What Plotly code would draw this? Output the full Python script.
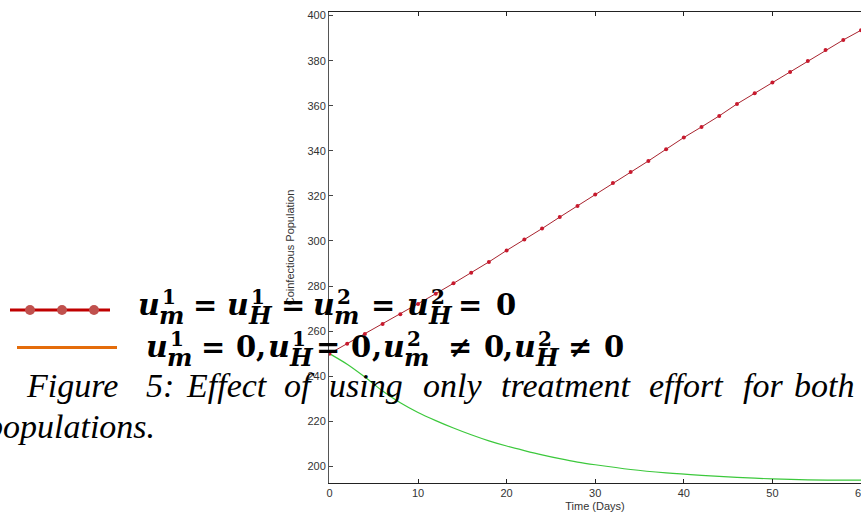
import plotly.graph_objects as go

# ---------------- data ----------------
days_red = list(range(0, 62, 2))
pop_red = [250.0, 254.4, 258.7, 263.1, 267.5, 272.0, 276.6, 281.2, 285.9, 290.7,
           295.8, 300.6, 305.5, 310.6, 315.5, 320.6, 325.7, 330.6, 335.5, 340.7,
           345.9, 350.6, 355.5, 360.8, 365.5, 370.3, 375.0, 379.9, 384.7, 389.2, 393.5]

days_green = [0, 2, 4, 6, 8, 10, 12, 14, 16, 18, 20, 22, 24, 26, 28, 30, 34, 38, 42, 46, 50, 54, 60]
pop_green = [250.0, 245.3, 239.6, 233.4, 228.2, 223.9, 220.3, 217.0, 214.0, 211.3, 209.0,
             207.0, 205.1, 203.4, 201.9, 200.7, 198.6, 197.1, 196.0, 195.1, 194.4, 194.0, 193.9]

x_ticks = [0, 10, 20, 30, 40, 50, 60]
y_ticks = list(range(200, 420, 20))
x_title = "Time (Days)"
y_title = "Coinfectious Population"

caption_words = ["Figure", "5:", "Effect", "of", "using", "only", "treatment", "effort", "for", "both"]
caption_line2 = "populations."

# legend formula tokens: ("u", sup, sub) or (symbol,)
line1_tokens = [("u", "1", "m"), ("=",), ("u", "1", "H"), ("=",), ("u", "2", "m"), ("=",),
                ("u", "2", "H"), ("=",), ("0",)]
line2_tokens = [("u", "1", "m"), ("=",), ("0",), (",",), ("u", "1", "H"), ("=",), ("0",), (",",),
                ("u", "2", "m"), ("≠",), ("0",), (",",), ("u", "2", "H"), ("≠",), ("0",)]

# ---------------- layout geometry (pixels) ----------------
FW, FH = 861, 518
L, T = 329, 12
W, H = FW - L, 483 - T


def px(xp):
    return (xp - L) / W


def py(yp):
    return (T + H - yp) / H


fig = go.Figure()
fig.add_trace(go.Scatter(x=days_green, y=pop_green, mode="lines",
                         line=dict(color="#3cc83c", width=1.2, shape="spline", smoothing=0.8),
                         showlegend=False))
fig.add_trace(go.Scatter(x=days_red, y=pop_red, mode="lines+markers",
                         line=dict(color="#a8232e", width=1),
                         marker=dict(color="#c8192d", size=4),
                         showlegend=False))

axis_font = dict(family="Liberation Sans, Arial", size=11, color="#333")
fig.update_xaxes(range=[-0.05, 60], tickvals=x_ticks, ticks="inside", ticklen=4,
                 tickcolor="#222", showline=True, linecolor="#222", linewidth=1,
                 mirror="ticks", showgrid=False, zeroline=False, tickfont=axis_font,
                 automargin=False, ticklabeloverflow="allow",
                 title=dict(text=x_title, font=axis_font, standoff=4))
fig.update_yaxes(range=[192.6, 401.6], tickvals=y_ticks, ticks="inside", ticklen=4,
                 tickcolor="#444", showline=True, linecolor="#555", linewidth=1,
                 mirror=False, showgrid=False, zeroline=False, tickfont=axis_font,
                 automargin=False,
                 title=dict(text=y_title, font=axis_font, standoff=10))

annotations = []
shapes = []

cap_x = [25, 145, 185, 283, 328, 422, 500, 648, 742, 793]
cap_base = 397
serif_it = dict(family="Liberation Serif, Times New Roman", size=34, color="#000",
                style="italic")


def text_at(text, xl, base, font, anchor="left", k=0.34):
    annotations.append(dict(text=text, xref="paper", yref="paper",
                            x=px(xl), y=py(base - k * font["size"]),
                            xanchor=anchor, yanchor="middle", showarrow=False,
                            font=font, borderpad=0))


for w_, xx in zip(caption_words, cap_x):
    text_at(w_, xx, cap_base, serif_it)
text_at(caption_line2, 156, 438, serif_it, anchor="right")

# formula lines
base_font = dict(family="DejaVu Serif", size=29, color="#000", weight="bold")
u_font = dict(family="DejaVu Serif", size=30, color="#000", weight="bold", style="italic")
sup_font = dict(family="DejaVu Serif", size=20, color="#000", weight="bold")
sub_font = dict(family="DejaVu Serif", size=24, color="#000", weight="bold", style="italic")

line1_x = [137, 192, 226, 280, 312, 370, 406, 457, 495]
line2_x = [145, 200, 235, 255, 267, 315, 350, 371, 382, 447, 483, 502, 513, 567, 603]


def formula(tokens, xs, base):
    for tok, xx in zip(tokens, xs):
        if tok[0] == "u":
            text_at("u", xx, base, u_font)
            text_at(tok[1], xx + 24, base - 11, sup_font)
            text_at(tok[2], xx + 21, base + 9, sub_font)
        else:
            text_at(tok[0], xx, base, base_font)


formula(line1_tokens, line1_x, 315)
formula(line2_tokens, line2_x, 357)

# legend symbols
shapes.append(dict(type="line", xref="paper", yref="paper", x0=px(10), x1=px(110),
                   y0=py(310), y1=py(310), line=dict(color="#c00000", width=3)))
for cx in [30, 62, 94]:
    shapes.append(dict(type="circle", xref="paper", yref="paper",
                       x0=px(cx - 5), x1=px(cx + 5), y0=py(315), y1=py(305),
                       fillcolor="#c0504d", line=dict(width=0)))
shapes.append(dict(type="line", xref="paper", yref="paper", x0=px(17), x1=px(117),
                   y0=py(347.5), y1=py(347.5), line=dict(color="#e46c0a", width=3)))

fig.update_layout(width=FW, height=FH,
                  margin=dict(l=L, r=0, t=T, b=FH - 483, autoexpand=False),
                  plot_bgcolor="white", paper_bgcolor="white",
                  annotations=annotations, shapes=shapes)

fig.write_html("out.html", config={"displayModeBar": False},
               post_script="document.body.style.margin='0';document.body.style.overflow='hidden';")
